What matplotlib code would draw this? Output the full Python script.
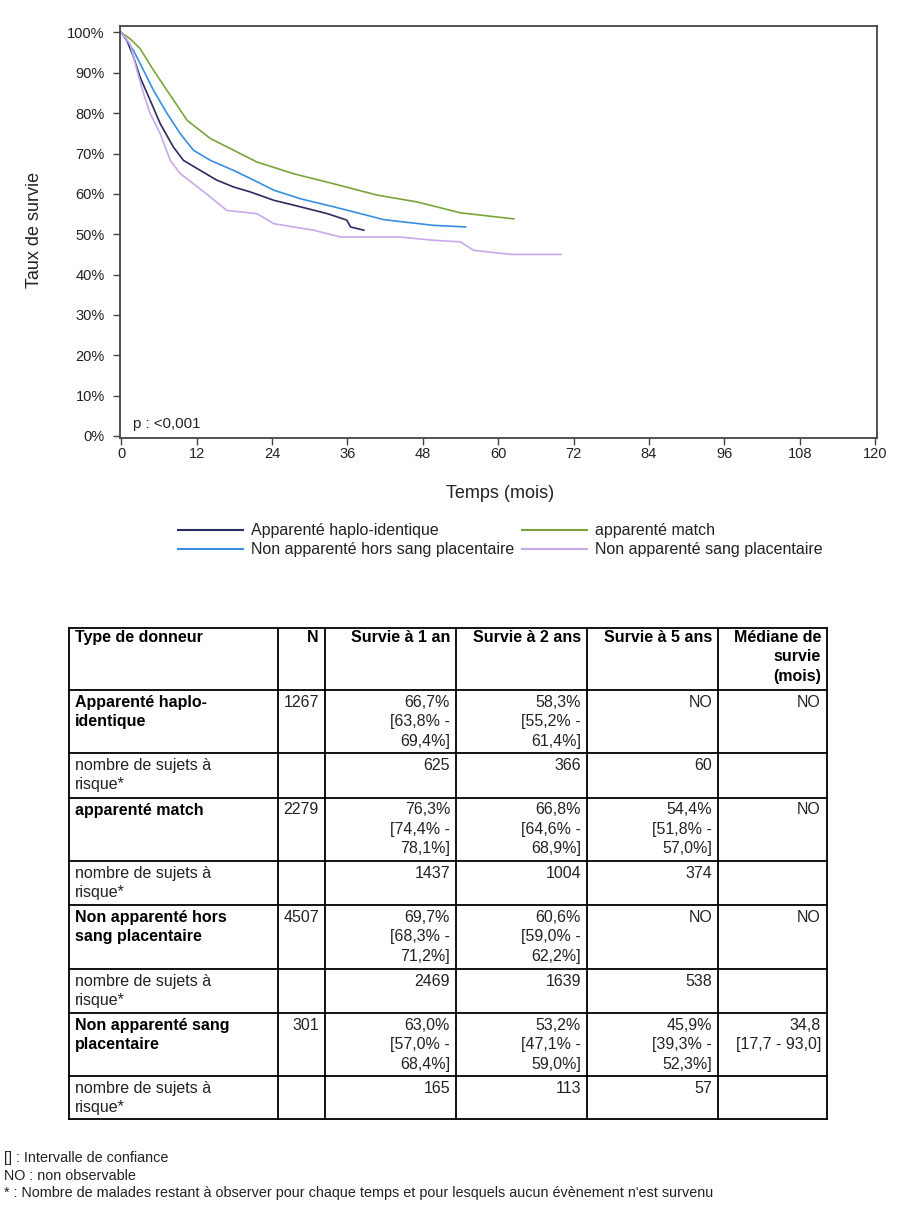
import numpy as np
import matplotlib
matplotlib.use('Agg')
import matplotlib.pyplot as plt
from matplotlib.lines import Line2D

plt.rcParams['font.family'] = ['Liberation Sans', 'DejaVu Sans']

# courbes (mois, %)
mois_haplo = [0, 0.9, 1.96, 3.0, 4.6, 6.2, 8.3, 9.9, 12.6, 15.2, 17.9, 20.5, 24.3, 28.5, 32.8, 35.9, 36.5, 38.6]
surv_haplo = [100, 98.0, 93.9, 88.9, 83.2, 77.4, 71.6, 68.3, 65.8, 63.4, 61.7, 60.5, 58.4, 56.8, 55.1, 53.5, 51.8, 51.0]

mois_match = [0, 1.43, 3.0, 5.15, 7.3, 10.5, 14.2, 17.9, 21.6, 27.4, 33.8, 40.7, 47.1, 54.0, 62.5]
surv_match = [100, 98.4, 96.0, 90.6, 85.6, 78.2, 73.7, 70.8, 67.9, 65.0, 62.5, 59.7, 58.0, 55.3, 53.8]

mois_hors = [0, 1.96, 3.55, 5.15, 7.3, 9.4, 11.5, 14.2, 17.9, 21.1, 24.3, 28.5, 33.8, 38.1, 41.8, 49.7, 54.8]
surv_hors = [100, 95.5, 90.6, 85.6, 79.9, 74.9, 70.8, 68.3, 65.8, 63.4, 60.9, 58.8, 56.8, 55.1, 53.6, 52.2, 51.8]

mois_sang = [0, 1.4, 2.5, 3.55, 4.6, 6.2, 7.8, 9.4, 11.5, 14.2, 16.8, 21.6, 24.3, 30.6, 34.9, 44.4, 49.7, 54.0, 56.1, 62.0, 70.0]
surv_sang = [100, 97.2, 90.6, 84.8, 79.9, 74.9, 68.3, 65.0, 62.5, 59.2, 55.9, 55.1, 52.6, 51.0, 49.3, 49.3, 48.5, 48.1, 46.0, 45.0, 45.0]

noms = ['Apparenté haplo-identique', 'apparenté match',
        'Non apparenté hors sang placentaire', 'Non apparenté sang placentaire']
couleurs = ['#2b2b63', '#7ba43c', '#3a8ee0', '#c9a9ea']

# tableau
groupes = ['Apparenté haplo-\nidentique', 'apparenté match',
           'Non apparenté hors\nsang placentaire', 'Non apparenté sang\nplacentaire']
effectifs = ['1267', '2279', '4507', '301']
surv_1an = [('66,7%', '63,8%', '69,4%'), ('76,3%', '74,4%', '78,1%'),
            ('69,7%', '68,3%', '71,2%'), ('63,0%', '57,0%', '68,4%')]
surv_2ans = [('58,3%', '55,2%', '61,4%'), ('66,8%', '64,6%', '68,9%'),
             ('60,6%', '59,0%', '62,2%'), ('53,2%', '47,1%', '59,0%')]
surv_5ans = [None, ('54,4%', '51,8%', '57,0%'), None, ('45,9%', '39,3%', '52,3%')]
mediane = ['NO', 'NO', 'NO', '34,8\n[17,7 - 93,0]']
risque_1an = ['625', '1437', '2469', '165']
risque_2ans = ['366', '1004', '1639', '113']
risque_5ans = ['60', '374', '538', '57']
entetes = ['Type de donneur', 'N', 'Survie à 1 an', 'Survie à 2 ans',
           'Survie à 5 ans', 'Médiane de\nsurvie\n(mois)']

notes = ['[] : Intervalle de confiance', 'NO : non observable',
         "* : Nombre de malades restant à observer pour chaque temps et pour lesquels aucun évènement n'est survenu"]

W, H = 900, 1217
fig = plt.figure(figsize=(W / 100, H / 100), dpi=100)

# --- courbes de survie ---
ax = fig.add_axes([120 / W, 1 - 438 / H, 757 / W, 412 / H])
courbes = [(mois_haplo, surv_haplo), (mois_match, surv_match),
           (mois_hors, surv_hors), (mois_sang, surv_sang)]
for (m, s), c, nom in zip(courbes, couleurs, noms):
    ax.plot(m, s, color=c, lw=1.2, label=nom)

ax.set_xlim(-0.2, 120.3)
ax.set_ylim(-0.5, 101.6)
ax.set_xticks(np.arange(0, 121, 12))
ax.set_yticks(np.arange(0, 101, 10))
ax.set_yticklabels([f'{v}%' for v in range(0, 101, 10)])
ax.tick_params(direction='out', length=5, width=1, color='#444444',
               labelsize=10.5, labelcolor='#222222')
ax.tick_params(axis='x', pad=1.5)
ax.tick_params(axis='y', pad=6)
for sp in ax.spines.values():
    sp.set_linewidth(1.3)
    sp.set_color('#444444')
ax.set_xlabel('Temps (mois)', fontsize=13, color='#222222')
ax.xaxis.label.set_va('center')
ax.xaxis.set_label_coords(0.502, -0.1335)
ax.set_ylabel('Taux de survie', fontsize=13, color='#222222')
ax.yaxis.label.set_va('center')
ax.yaxis.set_label_coords(-0.1123, 0.505)
ax.text(0.017, 0.034, 'p : <0,001', transform=ax.transAxes, fontsize=10.8,
        color='#222222', va='center', ha='left')

# légende : ordre haplo, hors / match, sang en deux colonnes
poignees = [Line2D([], [], color=c, lw=1.5) for c in couleurs]
ordre = [0, 2, 1, 3]
fig.legend([poignees[i] for i in ordre], [noms[i] for i in ordre],
           loc='upper center', bbox_to_anchor=(500 / W, 1 - 509 / H), ncol=2,
           frameon=False, fontsize=11.5, handlelength=4.07, handletextpad=0.5,
           columnspacing=0.5, labelspacing=0.25, labelcolor='#222222')

# --- tableau ---
tab = fig.add_axes([0, 0, 1, 1])
tab.set_xlim(0, W)
tab.set_ylim(H, 0)
tab.axis('off')
tab.patch.set_visible(False)

cols = [69, 278, 325, 456, 587, 718, 827]
lignes = [628, 690, 753, 797.5, 861, 905, 969, 1013, 1076, 1119]

for y in lignes:
    tab.plot([cols[0], cols[-1]], [y, y], color='black', lw=1.3, solid_capstyle='projecting')
for x in cols:
    tab.plot([x, x], [lignes[0], lignes[-1]], color='black', lw=1.3, solid_capstyle='projecting')


def cellule(ligne, col, texte, gras=False, dy=5):
    if col == 0:
        x, ha = cols[0] + 6, 'left'
    else:
        x, ha = cols[col + 1] - 6, 'right'
    tab.text(x, lignes[ligne] + dy, texte, ha=ha, va='top', fontsize=11.5,
             fontweight='bold' if gras else 'normal', linespacing=1.36,
             color='black' if gras else '#222222', multialignment=ha)


def fmt(v):
    if v is None:
        return 'NO'
    return f'{v[0]}\n[{v[1]} -\n{v[2]}]'


for j, t in enumerate(entetes):
    cellule(0, j, t, gras=True, dy=2)

for i in range(len(groupes)):
    r = 1 + 2 * i
    cellule(r, 0, groupes[i], gras=True)
    cellule(r, 1, effectifs[i])
    cellule(r, 2, fmt(surv_1an[i]))
    cellule(r, 3, fmt(surv_2ans[i]))
    cellule(r, 4, fmt(surv_5ans[i]))
    cellule(r, 5, mediane[i])
    cellule(r + 1, 0, 'nombre de sujets à\nrisque*')
    cellule(r + 1, 2, risque_1an[i])
    cellule(r + 1, 3, risque_2ans[i])
    cellule(r + 1, 4, risque_5ans[i])

for k, n in enumerate(notes):
    tab.text(4, 1158 + 17.5 * k, n, ha='left', va='center', fontsize=10.4, color='#222222')

fig.savefig('out.png', dpi=100)
